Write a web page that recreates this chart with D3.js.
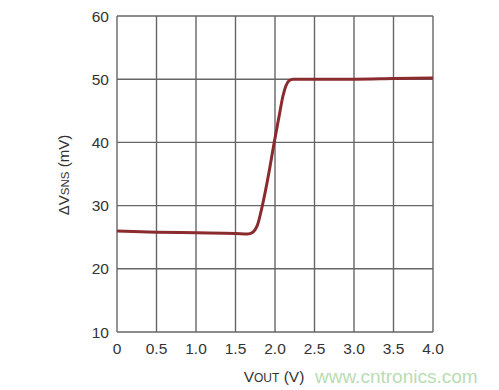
<!DOCTYPE html>
<html>
<head>
<meta charset="utf-8">
<script src="https://cdn.jsdelivr.net/npm/d3@7.9.0/dist/d3.min.js"></script>
<style>
  body { margin: 0; background: #fff; }
  text { font-family: "Liberation Sans", Arial, sans-serif; fill: #333; }
</style>
</head>
<body>
<svg id="chart" width="499" height="390"></svg>
<script>
// curve
const vout = [0, 0.5, 1.0, 1.5, 1.65, 1.72, 1.78, 1.84, 1.92, 1.99, 2.05, 2.1, 2.14, 2.18, 2.23, 2.5, 3.0, 3.5, 4.0];
const dvsns = [26.0, 25.8, 25.7, 25.6, 25.5, 25.8, 27.0, 30.0, 35.0, 40.0, 44.0, 47.3, 49.0, 49.8, 50.0, 50.0, 50.0, 50.1, 50.2];

const xTicks = [0, 0.5, 1.0, 1.5, 2.0, 2.5, 3.0, 3.5, 4.0];
const yTicks = [10, 20, 30, 40, 50, 60];

const svg = d3.select('#chart');

// plot box
const plotLeft = 117, plotRight = 433, plotTop = 16, plotBottom = 332;

const x = d3.scaleLinear().domain([0, 4]).range([plotLeft, plotRight]);
const y = d3.scaleLinear().domain([10, 60]).range([plotBottom, plotTop]);

// grid lines
svg.append('g')
    .selectAll('line')
    .data(xTicks)
    .join('line')
    .attr('x1', d => x(d)).attr('x2', d => x(d))
    .attr('y1', plotTop).attr('y2', plotBottom)
    .attr('stroke', '#666')
    .attr('stroke-width', 1.4);

svg.append('g')
    .selectAll('line')
    .data(yTicks)
    .join('line')
    .attr('x1', plotLeft).attr('x2', plotRight)
    .attr('y1', d => y(d)).attr('y2', d => y(d))
    .attr('stroke', '#666')
    .attr('stroke-width', 1.4);

// tick labels
svg.append('g')
    .selectAll('text')
    .data(yTicks)
    .join('text')
    .attr('x', plotLeft - 8)
    .attr('y', d => y(d))
    .attr('dy', '0.36em')
    .attr('text-anchor', 'end')
    .style('font-size', '15.5px')
    .text(d => d);

svg.append('g')
    .selectAll('text')
    .data(xTicks)
    .join('text')
    .attr('x', d => x(d))
    .attr('y', plotBottom + 22)
    .attr('text-anchor', 'middle')
    .style('font-size', '15.5px')
    .text(d => d === 0 ? '0' : d3.format('.1f')(d));

// the curve
const line = d3.line()
    .x((d, i) => x(vout[i]))
    .y(d => y(d))
    .curve(d3.curveMonotoneX);

svg.append('path')
    .datum(dvsns)
    .attr('d', line)
    .attr('fill', 'none')
    .attr('stroke', '#8a2b2e')
    .attr('stroke-width', 3)
    .attr('stroke-linejoin', 'round');

// axis titles
const yTitle = svg.append('text')
    .attr('transform', 'translate(69,175) rotate(-90)')
    .attr('text-anchor', 'middle')
    .style('font-size', '15px');
yTitle.append('tspan').text('\u0394V');
yTitle.append('tspan').style('font-size', '11.5px').text('SNS');
yTitle.append('tspan').text(' (mV)');

const xTitle = svg.append('text')
    .attr('x', 274)
    .attr('y', 382)
    .attr('text-anchor', 'middle')
    .style('font-size', '15.5px');
xTitle.append('tspan').text('V');
xTitle.append('tspan').style('font-size', '12px').text('OUT');
xTitle.append('tspan').text(' (V)');

// watermark
svg.append('text')
    .attr('x', 315)
    .attr('y', 383)
    .style('font-size', '19px')
    .style('fill', '#b9dcb4')
    .text('www.cntronics.com');
</script>
</body>
</html>
